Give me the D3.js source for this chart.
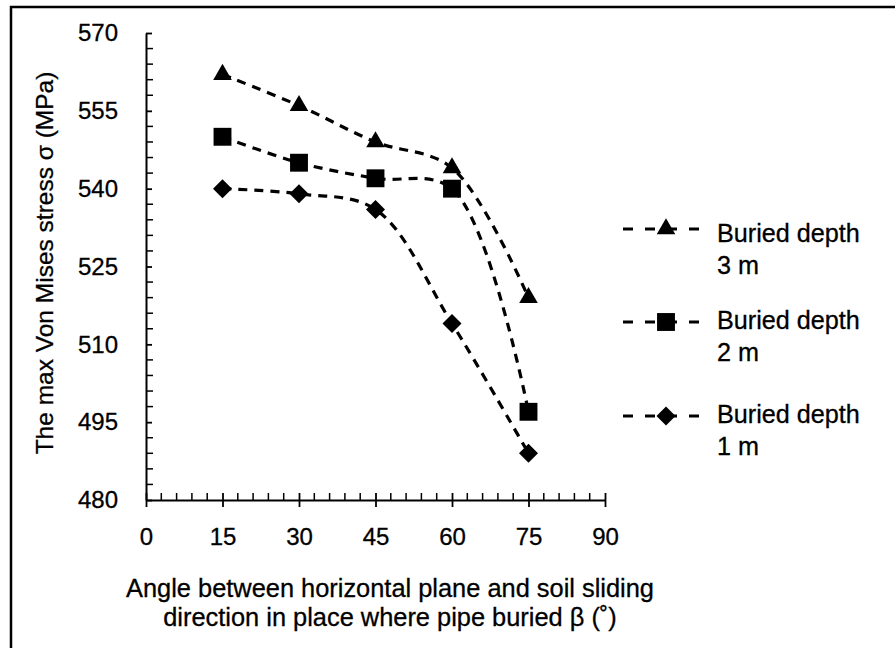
<!DOCTYPE html>
<meta charset="utf-8">
<script src="https://d3js.org/d3.v7.min.js"></script>
<style>
  body { margin: 0; background: #fff; }
  text { font-family: "Liberation Sans", Arial, sans-serif; fill: #000; stroke: #000; stroke-width: 0.3px; }
</style>
<div id="chart"></div>
<script>

// data
const angles = [15, 30, 45, 60, 75];
const depth3m = [562, 556, 549, 544, 519];
const depth2m = [550, 545, 542, 540, 497];
const depth1m = [540, 539, 536, 514, 489];
const seriesNames = ["Buried depth|3 m", "Buried depth|2 m", "Buried depth|1 m"];
const xTicks = [0, 15, 30, 45, 60, 75, 90];
const yTicks = [480, 495, 510, 525, 540, 555, 570];

const W = 895, H = 648;
const FS = "24px", FT = "25.4px";
const margin = {top: 33, left: 146},
      width = 605 - margin.left,
      height = 500 - margin.top;

const svg = d3.select("#chart").append("svg")
    .attr("width", W)
    .attr("height", H);

// outer frame (runs off the right/bottom edge)
svg.append("rect")
    .attr("x", 11).attr("y", 7)
    .attr("width", W + 20).attr("height", H + 20)
    .attr("fill", "none").attr("stroke", "#000").attr("stroke-width", 2.5);

const g = svg.append("g")
    .attr("transform", `translate(${margin.left},${margin.top})`);

const x = d3.scaleLinear().domain([0, 90]).range([0, width]);
const y = d3.scaleLinear().domain([480, 570]).range([height, 0]);

// minor ticks every 3 units
const minorX = d3.range(0, 91, 3).filter(v => v % 15 !== 0);
const minorY = d3.range(480, 571, 3).filter(v => v % 15 !== 0);

g.selectAll(".mx").data(minorX).join("line")
    .attr("x1", d => x(d)).attr("x2", d => x(d))
    .attr("y1", height).attr("y2", height - 7)
    .attr("stroke", "#000").attr("stroke-width", 1.5);
g.selectAll(".my").data(minorY).join("line")
    .attr("y1", d => y(d)).attr("y2", d => y(d))
    .attr("x1", 0).attr("x2", 7)
    .attr("stroke", "#000").attr("stroke-width", 1.5);

// axes
const xAxis = g.append("g")
    .attr("transform", `translate(0,${height})`)
    .call(d3.axisBottom(x).tickValues(xTicks).tickSize(7).tickSizeOuter(0).tickPadding(21));
xAxis.selectAll(".tick line").attr("y1", -7);
const yAxis = g.append("g")
    .call(d3.axisLeft(y).tickValues(yTicks).tickSize(9).tickSizeOuter(0).tickPadding(19));
yAxis.selectAll(".tick line").attr("x2", 6);

[xAxis, yAxis].forEach(a => {
  a.select(".domain").attr("stroke-width", 2);
  a.selectAll(".tick line").attr("stroke-width", 1.8);
  a.selectAll(".tick text").style("font-size", FS)
    .style("font-family", "'Liberation Sans', Arial, sans-serif");
});

// axis titles
svg.append("text")
    .attr("transform", "translate(53,263) rotate(-90)")
    .attr("text-anchor", "middle")
    .style("font-size", "24.5px")
    .text("The max Von Mises stress σ (MPa)");
svg.append("text").attr("x", 390).attr("y", 597)
    .attr("text-anchor", "middle").style("font-size", FT)
    .text("Angle between horizontal plane and soil sliding");
svg.append("text").attr("x", 390).attr("y", 626)
    .attr("text-anchor", "middle").style("font-size", FT)
    .text("direction in place where pipe buried β (˚)");

// diamond as a square turned 45 degrees
const diamond = {
  draw(ctx, size) {
    const r = Math.sqrt(size / 2);
    ctx.moveTo(0, -r); ctx.lineTo(r, 0); ctx.lineTo(0, r); ctx.lineTo(-r, 0); ctx.closePath();
  }
};

// series
const series = [
  {name: seriesNames[0], values: depth3m, symbol: d3.symbolTriangle, size: 150},
  {name: seriesNames[1], values: depth2m, symbol: d3.symbolSquare, size: 320},
  {name: seriesNames[2], values: depth1m, symbol: diamond, size: 180}
];

const line = d3.line()
    .x((d, i) => x(angles[i]))
    .y(d => y(d))
    .curve(d3.curveCatmullRom.alpha(0.5));

series.forEach(s => {
  g.append("path")
      .attr("d", line(s.values))
      .attr("fill", "none")
      .attr("stroke", "#000")
      .attr("stroke-width", 3.2)
      .attr("stroke-dasharray", "9,7");
  g.selectAll(null).data(s.values).join("path")
      .attr("transform", (d, i) => `translate(${x(angles[i])},${y(d)})`)
      .attr("d", d3.symbol().type(s.symbol).size(s.size))
      .attr("fill", "#000");
});

// legend
const legendY = [229, 322, 416];
const legendText = [242, 329, 423];
series.forEach((s, i) => {
  const lg = svg.append("g").attr("transform", `translate(623,${legendY[i]})`);
  lg.append("line").attr("x1", 0).attr("x2", 77)
      .attr("stroke", "#000").attr("stroke-width", 3)
      .attr("stroke-dasharray", "10,12");
  lg.append("path").attr("transform", "translate(43,0)")
      .attr("d", d3.symbol().type(s.symbol).size(s.size))
      .attr("fill", "#000");
  const parts = s.name.split("|");
  const ty = legendText[i] - legendY[i];
  lg.append("text").attr("x", 94).attr("y", ty).style("font-size", "25.2px").text(parts[0]);
  lg.append("text").attr("x", 94).attr("y", ty + 32).style("font-size", "25.2px").text(parts[1]);
});

</script>
